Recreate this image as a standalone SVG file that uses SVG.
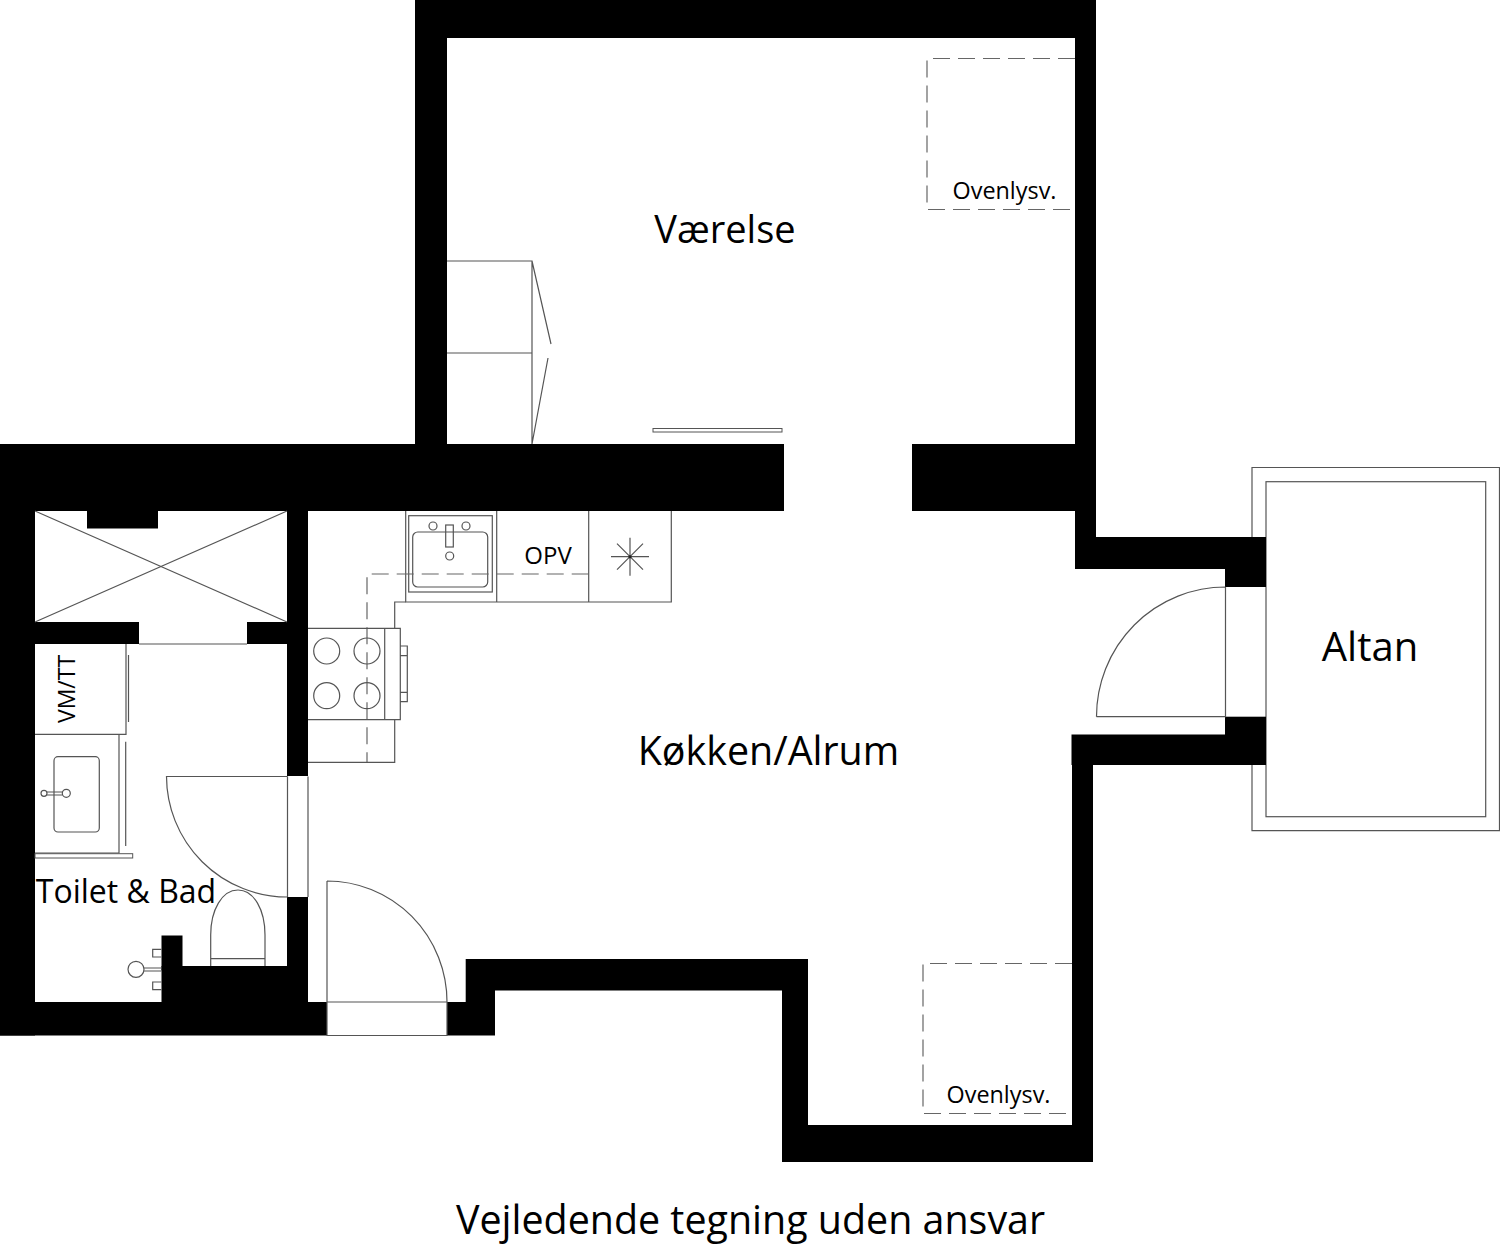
<svg xmlns="http://www.w3.org/2000/svg" width="1500" height="1248" viewBox="0 0 1500 1248">
<style>
.w{fill:#000}
.l{fill:none;stroke:#555;stroke-width:1.2}
.d{fill:none;stroke:#666;stroke-width:1.2;stroke-dasharray:17 8}
text{font-family:"Open Sans","Noto Sans",sans-serif;fill:#000}
</style>
<rect width="1500" height="1248" fill="#fff"/>
<g id="altan">
<path class="l" d="M1252 537V467.500H1499.500V830.700H1252V765"/>
<rect class="l" x="1266" y="481.700" width="219.700" height="335"/>
<text x="1370" y="661" font-size="40" text-anchor="middle">Altan</text>
</g>
<g id="walls">
<rect class="w" x="415" y="0" width="681" height="38"/>
<rect class="w" x="415" y="0" width="32" height="500"/>
<rect class="w" x="1075" y="0" width="21" height="569"/>
<rect class="w" x="912" y="444" width="184" height="67"/>
<rect class="w" x="1075" y="537" width="191" height="32"/>
<rect class="w" x="1225" y="537" width="41" height="50"/>
<rect class="w" x="1071.500" y="734.500" width="194.500" height="30.500"/>
<rect class="w" x="1225" y="716.700" width="41" height="48"/>
<rect class="w" x="0" y="444" width="784" height="67"/>
<rect class="w" x="0" y="444" width="35" height="591.500"/>
<rect class="w" x="0" y="1002" width="327" height="33.500"/>
<rect class="w" x="287" y="500" width="21" height="276"/>
<rect class="w" x="287" y="897" width="21" height="105"/>
<rect class="w" x="87" y="511" width="71" height="17.500"/>
<rect class="w" x="35" y="622" width="104" height="22"/>
<rect class="w" x="247" y="622" width="40" height="22"/>
<rect class="w" x="161.500" y="966" width="146" height="40"/>
<rect class="w" x="161.500" y="935.500" width="21" height="35"/>
<path class="w" d="M465.700 959H808V1125H1072V735H1093V1162H782V990.500H495V1035.500H447V1002H465.700Z"/>
</g>
<g id="vaerelse">
<path class="l" d="M447 261H532V444M447 353H532M532 261L551 344M548 358L532 444"/>
<rect x="653" y="428.500" width="129" height="3.500" fill="#fff" stroke="#555"/>
<path class="d" d="M1075 58.500H927V209.500H1075"/>
<text x="725" y="243" font-size="38" text-anchor="middle">Værelse</text>
<text x="1004.500" y="198.500" font-size="23.400" text-anchor="middle">Ovenlysv.</text>
</g>
<g id="kitchen">
<path class="l" d="M405.700 511V602H671.300V511M496.700 511V602M588.700 511V602"/>
<rect class="l" x="408.700" y="515.700" width="83.600" height="76.300"/>
<rect class="l" x="412.700" y="532" width="75" height="55" rx="5"/>
<rect class="l" x="445.700" y="525" width="7.600" height="22"/>
<circle class="l" cx="433" cy="526" r="4"/><circle class="l" cx="466" cy="526" r="4"/><circle class="l" cx="449.700" cy="556" r="4"/>
<path class="d" d="M588.700 574H367V762"/>
<text x="548" y="564" font-size="24" text-anchor="middle">OPV</text>
<path class="l" d="M611 556.700H649M630 537.700V575.700M617 543.700L643 569.700M617 569.700L643 543.700"/>
<circle cx="630" cy="556.700" r="1.500" fill="#222"/>
<path class="l" d="M405.700 602H394.700V628.300M308 628.300H400.300V719.700H308M308 762.300H394.700V719.700M384.700 628.300V719.700M400.300 646H407.300V701.700H400.300M400.300 655.700H407.300M400.300 692.300H407.300"/>
<circle class="l" cx="326.700" cy="651" r="13"/><circle class="l" cx="367" cy="651" r="13"/>
<circle class="l" cx="326.700" cy="695.700" r="13"/><circle class="l" cx="367" cy="695.700" r="13"/>
<text x="768.500" y="765" font-size="39.400" text-anchor="middle">Køkken/Alrum</text>
</g>
<g id="bath">
<path class="l" d="M35 622L287 511M35 511L287 622"/>
<path class="l" d="M139 644H247"/>
<path class="l" d="M126 644V734.300H35M128.500 655V722M119 734.300V853H35M125.700 741.700V846"/>
<rect class="l" x="54" y="756.700" width="45.300" height="75.300" rx="4"/>
<circle class="l" cx="44" cy="793.300" r="3"/>
<circle class="l" cx="66.300" cy="793.300" r="4"/>
<path class="l" d="M47 792H62.500M47 795H62.500"/>
<rect x="35" y="853.700" width="97.700" height="4.300" fill="#fff" stroke="#555"/>
<text transform="translate(75 689) rotate(-90)" font-size="23" text-anchor="middle">VM/TT</text>
<text x="126" y="903" font-size="32" text-anchor="middle">Toilet &amp; Bad</text>
<path class="l" d="M287.500 776.500H166.500A121 121 0 0 0 287.500 897"/>
<path class="l" d="M287.500 776.500V897M308 776.500V897"/>
<path class="l" d="M210.700 966V935C210.700 910 222 890 238 890C254 890 265 910 265 935V966M210.700 958.700H265"/>
<circle class="l" cx="136" cy="969.300" r="8"/>
<path class="l" d="M144 968H161.500M144 971H161.500M161.500 949.300H152.700V957H161.500M161.500 982H152.700V989.700H161.500"/>
</g>
<g id="entry">
<path class="l" d="M327 881V1002H447M327 881A120 121 0 0 1 447 1002"/>
<path class="l" d="M327 1002V1035.500H447V1002"/>
</g>
<g id="balcony-door">
<path class="l" d="M1225.500 587V716.700H1096.500M1225.500 587A129 129.700 0 0 0 1096.500 716.700"/>
</g>
<g id="skylight-s">
<path class="d" d="M1072 963.500H923V1113.500H1072"/>
<text x="998.500" y="1103" font-size="23.400" text-anchor="middle">Ovenlysv.</text>
</g>
<text id="note" x="750.500" y="1234" font-size="39.400" text-anchor="middle">Vejledende tegning uden ansvar</text>
</svg>
